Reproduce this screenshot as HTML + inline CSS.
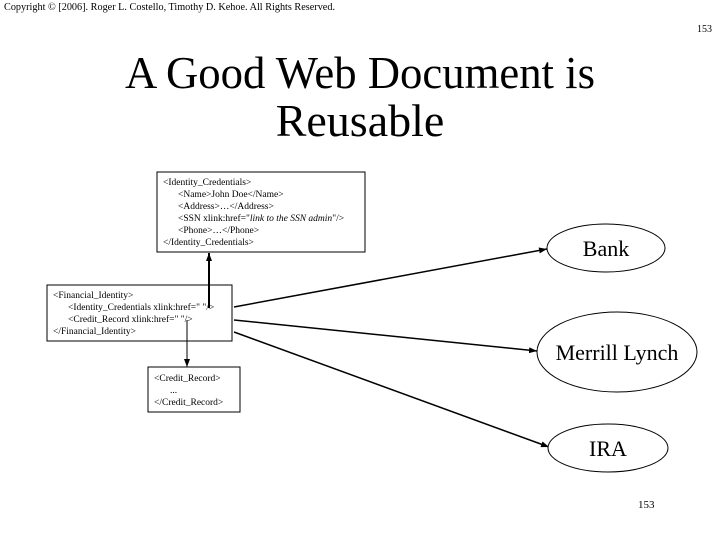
<!DOCTYPE html>
<html><head><meta charset="utf-8"><style>
html,body{margin:0;padding:0;background:#fff;}
svg{display:block;font-family:"Liberation Serif",serif;}
</style></head><body>
<svg width="720" height="540" viewBox="0 0 720 540" xmlns="http://www.w3.org/2000/svg">
<defs>
<marker id="a" markerWidth="8" markerHeight="6" refX="8" refY="3" orient="auto" markerUnits="userSpaceOnUse"><path d="M0,0 L8,3 L0,6 z" fill="#000"/></marker>
</defs>
<text x="4" y="10" font-size="10" textLength="331" lengthAdjust="spacingAndGlyphs">Copyright © [2006]. Roger L. Costello, Timothy D. Kehoe. All Rights Reserved.</text>
<text x="697" y="32" font-size="10">153</text>
<text x="360" y="88" font-size="46" text-anchor="middle" textLength="470" lengthAdjust="spacingAndGlyphs">A Good Web Document is</text>
<text x="360" y="136" font-size="46" text-anchor="middle">Reusable</text>

<rect x="157" y="172" width="208" height="80" fill="#fff" stroke="#000" stroke-width="1"/>
<g font-size="9.5">
<text x="163" y="185">&lt;Identity_Credentials&gt;</text>
<text x="178" y="197">&lt;Name&gt;John Doe&lt;/Name&gt;</text>
<text x="178" y="209">&lt;Address&gt;…&lt;/Address&gt;</text>
<text x="178" y="221">&lt;SSN xlink:href="<tspan font-style="italic">link to the SSN admin</tspan>"/&gt;</text>
<text x="178" y="233">&lt;Phone&gt;…&lt;/Phone&gt;</text>
<text x="163" y="245">&lt;/Identity_Credentials&gt;</text>
</g>

<rect x="47" y="285" width="185" height="56" fill="#fff" stroke="#000" stroke-width="1"/>
<g font-size="9.5">
<text x="53" y="298">&lt;Financial_Identity&gt;</text>
<text x="68" y="310">&lt;Identity_Credentials xlink:href="  "/&gt;</text>
<text x="68" y="322">&lt;Credit_Record xlink:href="  "/&gt;</text>
<text x="53" y="334">&lt;/Financial_Identity&gt;</text>
</g>

<rect x="148" y="367" width="92" height="45" fill="#fff" stroke="#000" stroke-width="1"/>
<g font-size="9.5">
<text x="154" y="381">&lt;Credit_Record&gt;</text>
<text x="170" y="393">...</text>
<text x="154" y="405">&lt;/Credit_Record&gt;</text>
</g>

<line x1="209" y1="308" x2="209" y2="253" stroke="#000" stroke-width="2" marker-end="url(#a)"/>
<line x1="187" y1="320" x2="187" y2="367" stroke="#000" stroke-width="1" marker-end="url(#a)"/>
<line x1="234" y1="307" x2="547" y2="249" stroke="#000" stroke-width="1.5" marker-end="url(#a)"/>
<line x1="234" y1="320" x2="537" y2="351" stroke="#000" stroke-width="1.5" marker-end="url(#a)"/>
<line x1="234" y1="332" x2="549" y2="447" stroke="#000" stroke-width="1.5" marker-end="url(#a)"/>

<ellipse cx="606" cy="248" rx="59" ry="24" fill="#fff" stroke="#000" stroke-width="1"/>
<text x="606" y="256" font-size="22" text-anchor="middle">Bank</text>
<ellipse cx="617" cy="352" rx="80" ry="40" fill="#fff" stroke="#000" stroke-width="1"/>
<text x="617" y="360" font-size="22" text-anchor="middle">Merrill Lynch</text>
<ellipse cx="608" cy="448" rx="60" ry="24" fill="#fff" stroke="#000" stroke-width="1"/>
<text x="608" y="456" font-size="22" text-anchor="middle">IRA</text>

<text x="638" y="508" font-size="11">153</text>
</svg>
</body></html>
